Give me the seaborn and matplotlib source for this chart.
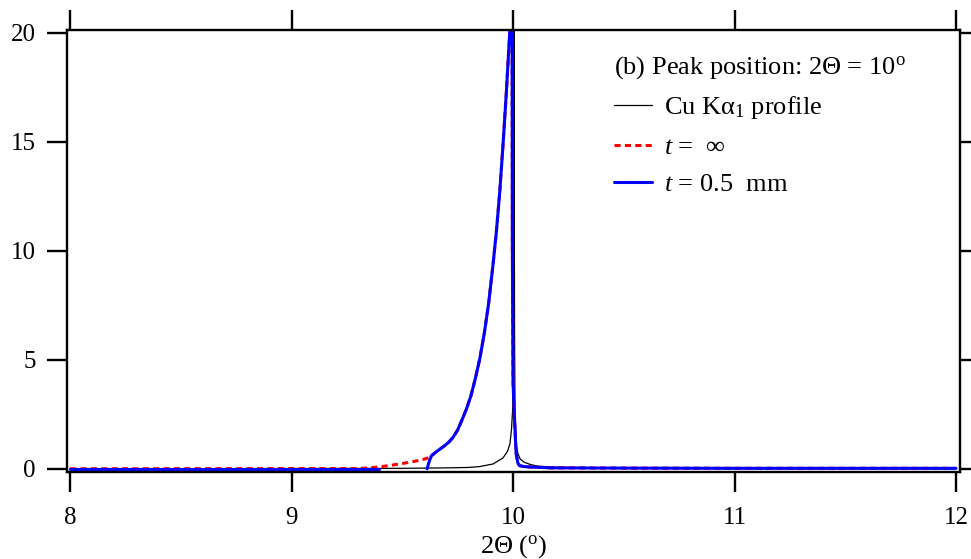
import numpy as np
import pandas as pd
import matplotlib
matplotlib.use("Agg")
import matplotlib.pyplot as plt
from matplotlib.lines import Line2D
import seaborn as sns

# ---- data ----
# Cu K-alpha1 instrument profile (black)
cu_x = [8.0, 9.0, 9.5, 9.7, 9.8, 9.85, 9.91, 9.955, 9.975, 9.986, 9.993, 9.998,
        10.001, 10.003, 10.004, 10.005, 10.007, 10.009, 10.014, 10.022, 10.032,
        10.05, 10.077, 10.11, 10.2, 10.4, 10.7, 11.0, 12.0]
cu_y = [0.0, 0.01, 0.02, 0.04, 0.06, 0.1, 0.22, 0.5, 0.8, 1.14, 1.8, 2.67,
        6.0, 15.0, 30.0, 15.0, 6.0, 2.67, 1.1, 0.7, 0.45,
        0.3, 0.2, 0.12, 0.07, 0.04, 0.02, 0.01, 0.0]

# t = 0.5 mm (blue): flat baseline part, then the absorption-broadened peak
blue_base_x = [8.0, 9.393]
blue_base_y = [0.0, 0.0]
blue_x = [9.612, 9.622, 9.632, 9.65, 9.67, 9.69, 9.71, 9.73, 9.75, 9.77,
          9.79, 9.81, 9.83, 9.85, 9.87, 9.89, 9.91, 9.925, 9.94, 9.955,
          9.97, 9.985, 9.99, 9.996, 9.997, 10.0, 10.005, 10.014, 10.022,
          10.03, 10.05, 10.077, 10.17, 10.5, 11.0, 12.0]
blue_y = [0.0, 0.35, 0.6, 0.75, 0.9, 1.05, 1.22, 1.45, 1.78, 2.25,
          2.75, 3.35, 4.15, 5.05, 6.2, 7.6, 9.4, 10.9, 12.7, 14.9,
          17.3, 20.0, 20.3, 20.0, 10.0, 4.0, 2.67, 0.7, 0.25,
          0.14, 0.1, 0.08, 0.04, 0.03, 0.02, 0.02]

# t = infinity (red dashed): extended low-angle tail, then same as blue
red_x = [8.0, 9.3, 9.35, 9.40, 9.45, 9.506, 9.55, 9.596, 9.616, 9.632, 9.65,
         9.67, 9.69, 9.71, 9.73, 9.75, 9.77, 9.79, 9.81, 9.83, 9.85, 9.87,
         9.89, 9.91, 9.925, 9.94, 9.955, 9.97, 9.985, 9.99, 9.996, 9.997,
         10.0, 10.005, 10.014, 10.022, 10.03, 10.05, 10.077, 10.17, 10.5,
         11.0, 12.0]
red_y = [0.0, 0.01, 0.04, 0.09, 0.16, 0.25, 0.33, 0.43, 0.5, 0.6, 0.75,
         0.9, 1.05, 1.22, 1.45, 1.78, 2.25, 2.75, 3.35, 4.15, 5.05, 6.2,
         7.6, 9.4, 10.9, 12.7, 14.9, 17.3, 20.0, 20.3, 20.0, 10.0,
         4.0, 2.67, 0.7, 0.25, 0.14, 0.1, 0.08, 0.04, 0.03,
         0.02, 0.02]

x_ticks = [8, 9, 10, 11, 12]
y_ticks = [0, 5, 10, 15, 20]

legend_title = "(b) Peak position: 2\u0398 = 10$^\\mathrm{o}$"
labels = ["Cu K\u03b1$_1$ profile", "$t$ =  \u221e", "$t$ = 0.5  mm"]

# ---- style ----
sns.set_theme(style="ticks")
plt.rcParams["font.family"] = ["Liberation Serif", "DejaVu Serif"]
plt.rcParams["mathtext.fontset"] = "custom"
plt.rcParams["mathtext.rm"] = "Liberation Serif"
plt.rcParams["mathtext.it"] = "Liberation Serif:italic"
plt.rcParams["mathtext.bf"] = "Liberation Serif:bold"
for k in ["text.color", "axes.labelcolor", "xtick.color", "ytick.color",
          "xtick.labelcolor", "ytick.labelcolor", "axes.edgecolor"]:
    plt.rcParams[k] = "black"

FS_TICK = 18
FS_TEXT = 19

fig = plt.figure(figsize=(9.71, 5.59), dpi=100)
ax = fig.add_axes([0.0687, 0.1556, 0.92, 0.7907])

df_cu = pd.DataFrame({"x": cu_x, "y": cu_y})
df_red = pd.DataFrame({"x": red_x, "y": red_y})
df_blue = pd.concat([
    pd.DataFrame({"x": blue_base_x, "y": blue_base_y, "seg": 0}),
    pd.DataFrame({"x": blue_x, "y": blue_y, "seg": 1}),
], ignore_index=True)

sns.lineplot(data=df_cu, x="x", y="y", ax=ax, color="black", lw=0.9,
             sort=False, estimator=None, legend=False)
sns.lineplot(data=df_red, x="x", y="y", ax=ax, color="#ff0000", lw=2.2,
             sort=False, estimator=None, legend=False)
ax.lines[-1].set_dashes([2.0, 1.4])
sns.lineplot(data=df_blue, x="x", y="y", units="seg", ax=ax, color="#0000ff",
             lw=2.2, sort=False, estimator=None, legend=False)

ax.set_xlim(7.985, 12.018)
ax.set_ylim(-0.15, 20.13)
ax.set_xticks(x_ticks)
ax.set_yticks(y_ticks)
ax.set_xticklabels([str(v) for v in x_ticks])
ax.set_yticklabels([str(v) for v in y_ticks])

for s in ax.spines.values():
    s.set_visible(True)
    s.set_linewidth(1.7)
    s.set_color("black")
ax.tick_params(axis="both", which="major", direction="out", length=14.4,
               width=1.7, color="black", labelcolor="black",
               labelsize=FS_TICK, top=True, right=True,
               labeltop=False, labelright=False)
ax.tick_params(axis="x", pad=11)
ax.tick_params(axis="y", pad=8)

ax.set_xlabel("2\u0398 ($^\\mathrm{o}$)", fontsize=FS_TEXT, labelpad=3,
              color="black")
ax.set_ylabel("")
ax.grid(False)

handles = [
    Line2D([], [], color="black", lw=0.9),
    Line2D([], [], color="#ff0000", lw=2.2, dashes=[2.0, 1.4]),
    Line2D([], [], color="#0000ff", lw=2.2),
]
leg = ax.legend(handles, labels, title=legend_title, loc="upper left",
                bbox_to_anchor=(0.6125, 0.9465), frameon=False,
                fontsize=FS_TEXT, title_fontsize=FS_TEXT, alignment="left",
                borderpad=0, borderaxespad=0, handlelength=1.45,
                handletextpad=0.45, labelspacing=0.53)
for t in leg.get_texts():
    t.set_color("black")
leg.get_title().set_color("black")

fig.savefig("out.png", dpi=100)
